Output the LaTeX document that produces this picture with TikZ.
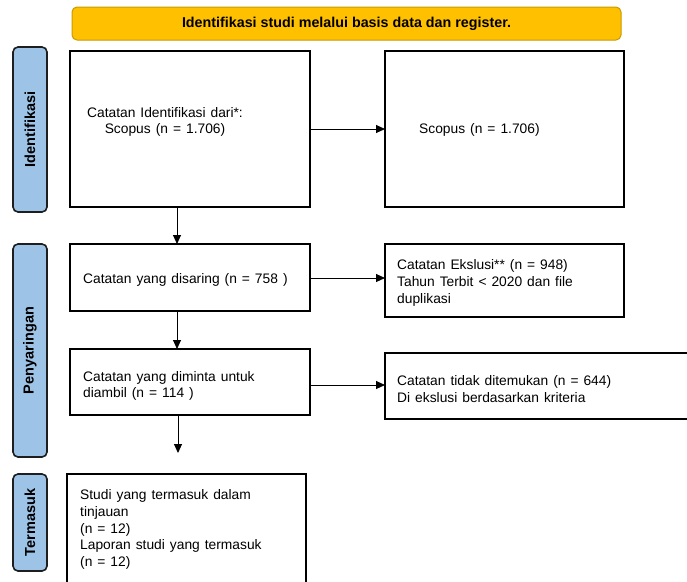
\documentclass[tikz,border=0pt]{standalone}
\usepackage{fontspec}
\setmainfont{Liberation Sans}[WordSpace=1.3]
\newfontfamily\bannerfont{Liberation Sans}[WordSpace=1.0]
\usetikzlibrary{arrows.meta,calc}
\definecolor{bannerfill}{HTML}{FFC000}
\definecolor{bannerdraw}{HTML}{C99A00}
\definecolor{labfill}{HTML}{9DC3E6}
\definecolor{labdraw}{HTML}{1E1E1E}
\begin{document}
\begin{tikzpicture}[x=1pt,y=-1pt,
  box/.style={draw=black,line width=1.5pt,inner sep=0pt,outer sep=0pt,anchor=north west},
  lab/.style={draw=labdraw,fill=labfill,line width=1.6pt,rounded corners=5pt,inner sep=0pt,outer sep=0pt,
    rotate=90,minimum height=34pt,font=\bfseries\fontsize{14.5}{16}\selectfont},
  banner/.style={draw=bannerdraw,fill=bannerfill,line width=1pt,rounded corners=5pt,inner sep=0pt,
    minimum width=549pt,minimum height=33pt,font=\bannerfont\bfseries\fontsize{14.3}{16}\selectfont},
  txt/.style={inner sep=0pt,align=left,font=\fontsize{13.8}{16.8}\selectfont},
  arr/.style={line width=0.9pt,-{Triangle[length=9pt,width=8pt]}}]
\useasboundingbox (0,0) rectangle (687,581);
\clip (0,0) rectangle (687,581);
\fill[white] (0,0) rectangle (687,581);
% banner
\node[banner] (ban) at (346.5,23.5) {Identifikasi studi melalui basis data dan register.};
% side labels
\node[lab,minimum width=165pt] (lid) at (30,129.5) {Identifikasi};
\node[lab,minimum width=213pt] (lpe) at (30,350.5) {Penyaringan};
\node[lab,minimum width=97pt] (lte) at (30,522.5) {Termasuk};
% boxes
\node[box,minimum width=240pt,minimum height=156pt] (b1) at (70,51) {};
\node[box,minimum width=239pt,minimum height=156pt] (b2) at (385,51) {};
\node[box,minimum width=240pt,minimum height=67pt] (b3) at (70,244) {};
\node[box,minimum width=239pt,minimum height=73pt] (b4) at (385,244) {};
\node[box,minimum width=240pt,minimum height=66pt] (b5) at (70,349) {};
\node[box,minimum width=320pt,minimum height=66pt] (b6) at (385,353) {};
\node[box,minimum width=239pt,minimum height=130pt] (b7) at (67,474) {};
% texts
\node[txt,align=center] (t1) at (165,122) {Catatan Identifikasi dari*:\\Scopus (n = 1.706)};
\node[txt,anchor=west] (t2) at (419,130) {Scopus (n = 1.706)};
\node[txt,anchor=west] (t3) at (83,280) {Catatan yang disaring (n = 758 )};
\node[txt,anchor=west] (t4) at (397,283) {Catatan Ekslusi** (n = 948)\\Tahun Terbit < 2020 dan file\\duplikasi};
\node[txt,anchor=west] (t5) at (83,386) {Catatan yang diminta untuk\\diambil (n = 114 )};
\node[txt,anchor=west] (t6) at (397,389) {Catatan tidak ditemukan (n = 644)\\Di ekslusi berdasarkan kriteria};
\node[txt,anchor=west] (t7) at (80,529.5) {Studi yang termasuk dalam\\tinjauan\\(n = 12)\\Laporan studi yang termasuk\\(n = 12)};
% connectors
\draw[arr] (b1.east) -- (b2.west);
\draw[arr] (b3.east |- 0,278) -- (b4.west |- 0,278);
\draw[arr] (b5.east |- 0,385) -- (b6.west |- 0,385);
\draw[arr] (b1.south -| 177,0) -- (b3.north -| 177,0);
\draw[arr] (b3.south -| 177,0) -- (b5.north -| 177,0);
\coordinate (end) at (178,453);
\draw[arr] (b5.south -| 178,0) -- (end);
\end{tikzpicture}
\end{document}
